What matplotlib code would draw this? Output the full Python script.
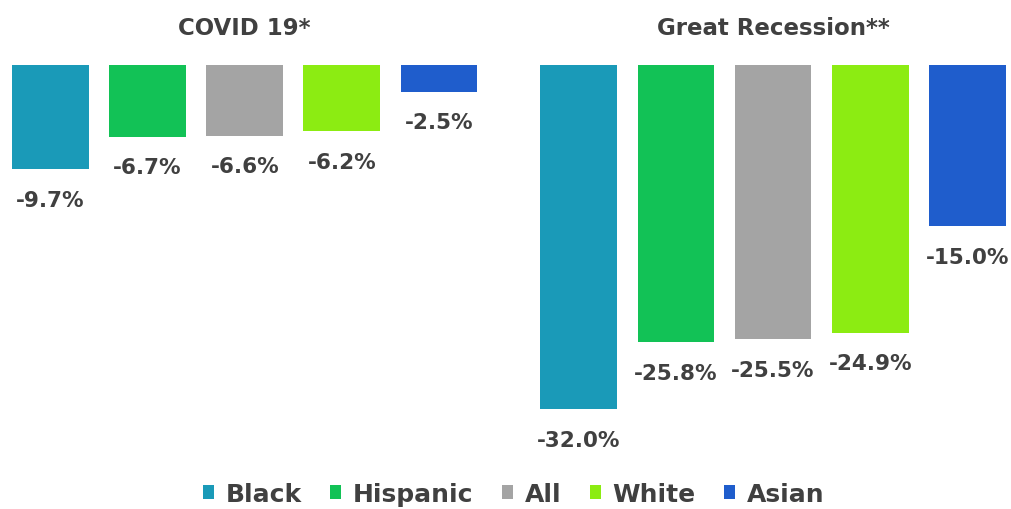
import matplotlib
matplotlib.use("Agg")
import matplotlib.pyplot as plt
from matplotlib.patches import Patch

# Change in employment by group, two downturns
periods = ["COVID 19*", "Great Recession**"]
groups = ["Black", "Hispanic", "All", "White", "Asian"]
covid = [-9.7, -6.7, -6.6, -6.2, -2.5]
recession = [-32.0, -25.8, -25.5, -24.9, -15.0]
colors = ["#1a9ab8", "#12c256", "#a4a4a4", "#8cec12", "#1f5dcc"]

plt.rcParams["font.family"] = ["DejaVu Sans"]
text_color = "#404040"

fig = plt.figure(figsize=(10.11, 5.10), dpi=100)
ax = fig.add_axes([0.0, 0.196, 1.0, 0.675])

group_gap = 5.44
bar_w = 0.79
for g, (period, vals) in enumerate(zip(periods, [covid, recession])):
    xs = [g * group_gap + i for i in range(len(vals))]
    ax.bar(xs, vals, width=bar_w, color=colors, edgecolor="none")
    for x, v in zip(xs, vals):
        ax.annotate(f"{v:.1f}%", (x, v), xytext=(0, -22), textcoords="offset points",
                    ha="center", va="center", fontsize=15.5, fontweight="bold",
                    color=text_color)
    center = g * group_gap + (len(vals) - 1) / 2
    ax.annotate(period, (center, 0), xytext=(0, 27), textcoords="offset points",
                ha="center", va="center", fontsize=16.5, fontweight="bold",
                color=text_color)

ax.set_xlim(-0.52, 9.89)
ax.set_ylim(-32, 0)
ax.axis("off")

handles = [Patch(facecolor=c, edgecolor="none") for c in colors]
fig.legend(handles, groups, loc="center", bbox_to_anchor=(0.508, 0.03), ncol=5,
           frameon=False, handlelength=0.45, handleheight=0.45,
           handletextpad=0.45, columnspacing=1.15,
           prop={"size": 18, "weight": "bold"}, labelcolor=text_color)

fig.savefig("out.png", dpi=100, facecolor="white")
